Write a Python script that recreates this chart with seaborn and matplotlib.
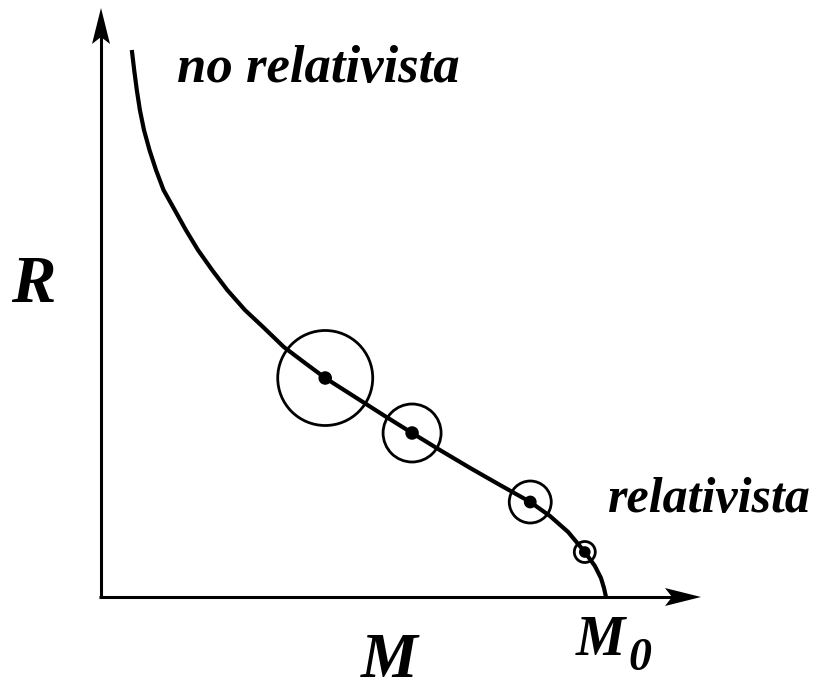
import numpy as np
import pandas as pd
import matplotlib
matplotlib.use("Agg")
import matplotlib.pyplot as plt
from matplotlib.patches import Polygon
import seaborn as sns

# Mass-radius relation of a white dwarf (arbitrary units, M0 = limiting mass = 1)
curve_mass = [0.061, 0.0657, 0.0709, 0.077, 0.0851, 0.096, 0.1089, 0.1238, 0.146,
              0.168, 0.192, 0.220, 0.250, 0.285, 0.323, 0.362, 0.404, 0.444,
              0.503, 0.562, 0.616, 0.671, 0.731, 0.790, 0.850, 0.889, 0.925,
              0.958, 0.978, 0.990, 0.996, 1.000]
curve_radius = [5.47, 5.27, 5.07, 4.87, 4.67, 4.47, 4.27, 4.07, 3.87,
                3.67, 3.47, 3.27, 3.07, 2.87, 2.69, 2.50, 2.34, 2.19,
                2.00, 1.81, 1.64, 1.47, 1.29, 1.12, 0.95, 0.81, 0.65,
                0.45, 0.31, 0.19, 0.09, 0.00]

# Sample stars on the curve and the pixel radius of each star's ring
star_mass = [0.444, 0.616, 0.850, 0.958]
star_radius = [2.19, 1.64, 0.95, 0.45]
ring_px = [47.5, 29.0, 21.0, 10.5]

sns.set_theme(style="white")
plt.rcParams["font.family"] = ["Liberation Serif", "DejaVu Serif"]

DPI = 100
fig = plt.figure(figsize=(8.24, 6.91), dpi=DPI)
ax = fig.add_axes([0, 0, 1, 1])
ax.axis("off")

# pixel frame: origin of the axes at (101, 597), 505 px per unit of M, 100 px per unit of R
X0, Y0, SX, SY = 101, 597, 505, 100
ax.set_xlim(-X0 / SX, (824 - X0) / SX)
ax.set_ylim((Y0 - 691) / SY, Y0 / SY)

def px(x, y):
    return ((x - X0) / SX, (Y0 - y) / SY)

# axes with arrows
ax.plot(*zip(px(101, 598), px(101, 30)), color="black", lw=2.2, solid_capstyle="butt")
ax.plot(*zip(px(99, 597), px(680, 597)), color="black", lw=2.2, solid_capstyle="butt")
ax.add_patch(Polygon([px(101, 8), px(110, 44), px(101, 37), px(92, 44)],
                     closed=True, color="black", lw=0))
ax.add_patch(Polygon([px(701, 597), px(665, 606), px(672, 597), px(665, 588)],
                     closed=True, color="black", lw=0))

# the curve
df = pd.DataFrame({"M": curve_mass, "R": curve_radius})
sns.lineplot(data=df, x="M", y="R", sort=False, color="black", lw=3.0, ax=ax,
             legend=False, solid_joinstyle="round", solid_capstyle="butt")

# star rings and centres
ring_s = [(2 * r * 72 / DPI) ** 2 for r in ring_px]
sns.scatterplot(x=star_mass, y=star_radius, s=ring_s, facecolor="none",
                edgecolor="black", linewidth=2.0, ax=ax, legend=False, zorder=3)
sns.scatterplot(x=star_mass, y=star_radius, s=[95, 95, 85, 70], color="black",
                linewidth=0, ax=ax, legend=False, zorder=4)

# labels
lab = dict(color="black", fontweight="bold", fontstyle="italic", va="baseline", ha="left")
ax.text(*px(177, 82), "no relativista", fontsize=38, **lab)
ax.text(*px(608, 512), "relativista", fontsize=36, **lab)
ax.text(*px(11, 302), "R", fontsize=48, **lab)
ax.text(*px(361, 677), "M", fontsize=46, **lab)
ax.text(*px(576, 655), "M", fontsize=40, **lab)
ax.text(*px(628, 670), "0", fontsize=33, **lab)

fig.savefig("out.png", dpi=DPI)
